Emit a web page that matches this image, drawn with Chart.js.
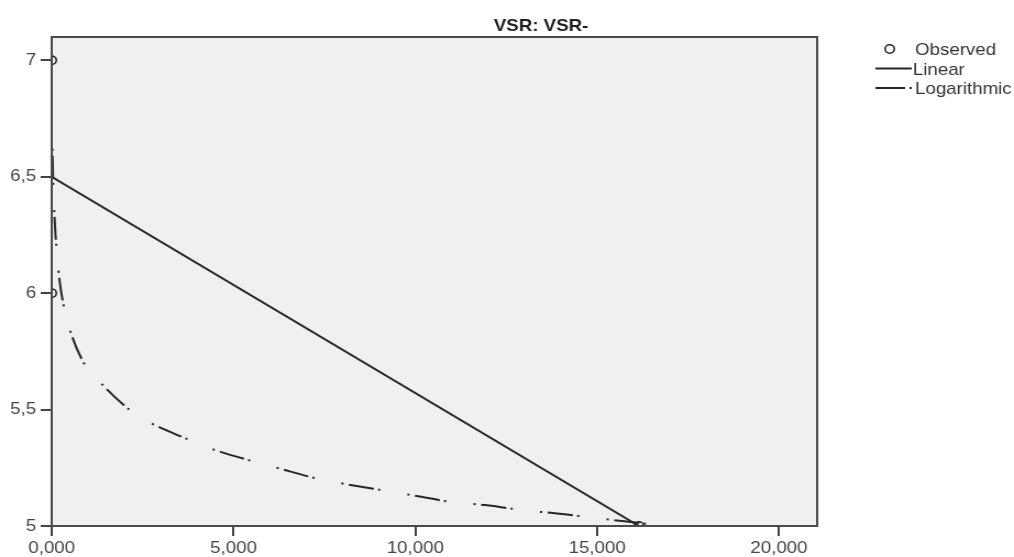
<!DOCTYPE html>
<html>
<head>
<meta charset="utf-8">
<title>VSR: VSR-</title>
<style>
html, body { margin: 0; padding: 0; background: #ffffff; }
#chart { display: block; }
</style>
</head>
<body>
<!-- the source picture is stretched sideways, so the canvas is drawn narrower and widened by its style -->
<canvas id="chart" width="922" height="557" style="width:1014px;height:557px"></canvas>
<script src="https://cdn.jsdelivr.net/npm/chart.js"></script>
<script>
const titleText = 'VSR: VSR-';
const legendLabels = ['Observed', 'Linear', 'Logarithmic'];

const observedX = [0, 0, 16150];
const observedY = [7, 6, 5];

const linearX = [0, 16150];
const linearY = [6.5, 5.0];

const logX = [20, 40, 60, 100, 150, 220, 300, 466, 849, 1260, 2055, 2630, 3700, 4330, 5479, 6192, 7397, 8082, 9233, 10000, 11123, 11918, 13096, 13781, 14959, 15753, 16932];
const logY = [6.62, 6.48, 6.39, 6.26, 6.16, 6.05, 5.97, 5.86, 5.71, 5.63, 5.51, 5.45, 5.375, 5.335, 5.28, 5.25, 5.20, 5.18, 5.15, 5.13, 5.10, 5.09, 5.065, 5.056, 5.034, 5.02, 5.0];

const xTicks = [0, 5000, 10000, 15000, 20000];
const xTickLabels = ['0,000', '5,000', '10,000', '15,000', '20,000'];
const yTicks = [5, 5.5, 6, 6.5, 7];
const yTickLabels = ['5', '5,5', '6', '6,5', '7'];

const ink = '#262626';
const logDash = [2, 5, 23, 4, 2, 25];

function toPoints(xs, ys) {
  return xs.map((x, i) => ({ x: x, y: ys[i] }));
}

Chart.defaults.font.family = "Arial, 'Liberation Sans', sans-serif";

const frame = {
  id: 'frame',
  beforeDatasetsDraw(chart) {
    const a = chart.chartArea;
    const c = chart.ctx;
    c.save();
    c.fillStyle = '#f0f0f0';
    c.fillRect(a.left, a.top, a.right - a.left, a.bottom - a.top);
    c.restore();
  },
  afterDatasetsDraw(chart) {
    const a = chart.chartArea;
    const c = chart.ctx;
    c.save();
    c.strokeStyle = '#4a4a4a';
    c.lineWidth = 2;
    c.strokeRect(a.left, a.top, a.right - a.left, a.bottom - a.top);
    c.restore();
  },
  afterDraw(chart) {
    const c = chart.ctx;
    c.save();
    // title
    c.fillStyle = '#1e1e1e';
    c.font = "bold 17px Arial, 'Liberation Sans', sans-serif";
    c.textAlign = 'center';
    c.textBaseline = 'alphabetic';
    c.fillText(titleText, 492, 31);

    // legend
    c.font = "17px Arial, 'Liberation Sans', sans-serif";
    c.textAlign = 'left';
    c.fillStyle = '#333333';
    c.strokeStyle = ink;

    c.lineWidth = 1.6;
    c.beginPath();
    c.arc(809, 49, 4.2, 0, Math.PI * 2);
    c.stroke();
    c.fillText(legendLabels[0], 832, 55);

    c.lineWidth = 2;
    c.beginPath();
    c.moveTo(796, 68.5);
    c.lineTo(829, 68.5);
    c.stroke();
    c.fillText(legendLabels[1], 830, 74.5);

    c.setLineDash([27, 4, 2, 60]);
    c.beginPath();
    c.moveTo(796, 88);
    c.lineTo(830, 88);
    c.stroke();
    c.setLineDash([]);
    c.fillText(legendLabels[2], 832, 94);
    c.restore();
  }
};

new Chart(document.getElementById('chart'), {
  type: 'scatter',
  data: {
    datasets: [
      {
        label: legendLabels[0],
        data: toPoints(observedX, observedY),
        showLine: false,
        pointRadius: 4.2,
        pointBorderWidth: 1.6,
        pointBorderColor: ink,
        pointBackgroundColor: 'rgba(0,0,0,0)',
        clip: 0
      },
      {
        label: legendLabels[1],
        data: toPoints(linearX, linearY),
        showLine: true,
        borderColor: ink,
        borderWidth: 2,
        pointRadius: 0,
        clip: 0
      },
      {
        label: legendLabels[2],
        data: toPoints(logX, logY),
        showLine: true,
        borderColor: ink,
        borderWidth: 2,
        borderDash: logDash,
        cubicInterpolationMode: 'monotone',
        pointRadius: 0,
        clip: 0
      }
    ]
  },
  options: {
    responsive: false,
    animation: false,
    devicePixelRatio: 1,
    layout: { padding: { left: 0, right: 179, top: 37, bottom: 0 } },
    plugins: {
      legend: { display: false },
      title: { display: false },
      tooltip: { enabled: false }
    },
    scales: {
      x: {
        type: 'linear',
        min: 0,
        max: 21050,
        afterBuildTicks(scale) { scale.ticks = xTicks.map(v => ({ value: v })); },
        afterFit(scale) { scale.height = 31; },
        border: { display: false },
        grid: { drawOnChartArea: false, drawTicks: true, tickLength: 10, color: '#444', lineWidth: 2 },
        ticks: {
          padding: 2,
          color: '#454545',
          font: { size: 17 },
          maxRotation: 0,
          callback: (v, i) => xTickLabels[i]
        }
      },
      y: {
        type: 'linear',
        min: 5,
        max: 7.1,
        afterBuildTicks(scale) { scale.ticks = yTicks.map(v => ({ value: v })); },
        afterFit(scale) { scale.width = 47; },
        border: { display: false },
        grid: { drawOnChartArea: false, drawTicks: true, tickLength: 10, color: '#444', lineWidth: 2 },
        ticks: {
          padding: 4,
          color: '#454545',
          font: { size: 17 },
          callback: (v, i) => yTickLabels[i]
        }
      }
    }
  },
  plugins: [frame]
});
</script>
</body>
</html>
